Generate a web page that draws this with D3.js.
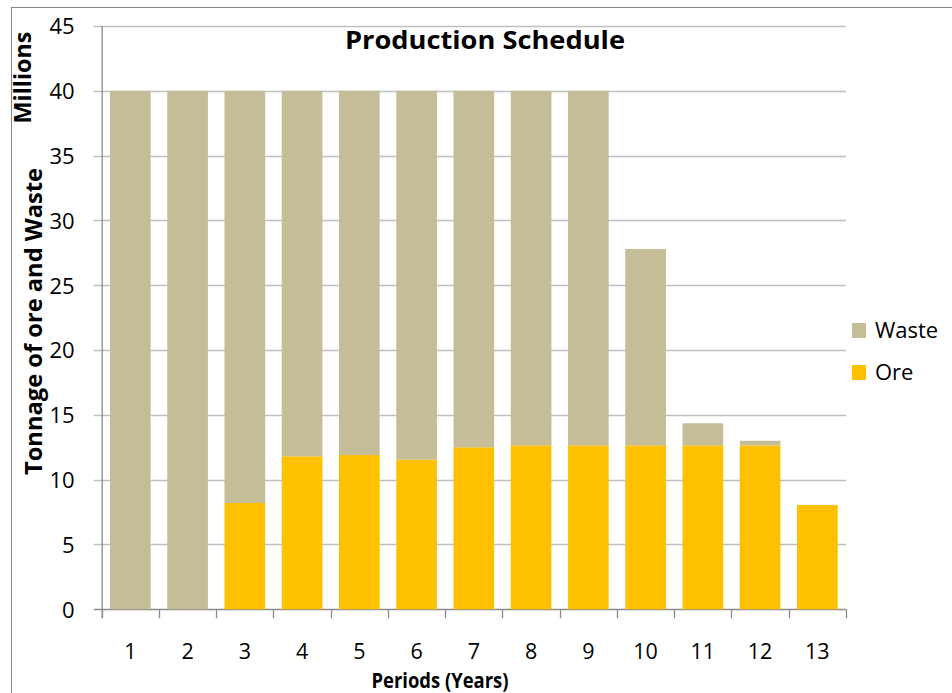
<!DOCTYPE html>
<html>
<head>
<meta charset="utf-8">
<script src="https://cdn.jsdelivr.net/npm/d3@7"></script>
<style>
  html, body { margin: 0; padding: 0; background: #fff; }
  svg { display: block; }
  text { font-family: "Open Sans", "Noto Sans", sans-serif; fill: #000; }
</style>
</head>
<body>
<svg id="chart" width="952" height="693"></svg>
<script>
// ---- data ----
const periods = ["1","2","3","4","5","6","7","8","9","10","11","12","13"];
const ore     = [0, 0, 8.2, 11.8, 11.9, 11.55, 12.5, 12.65, 12.65, 12.65, 12.65, 12.65, 8.05];
const total   = [40, 40, 40, 40, 40, 40, 40, 40, 40, 27.8, 14.35, 13.0, 8.05];
const waste   = total.map((t, i) => +(t - ore[i]).toFixed(2));
const yTicks  = [0, 5, 10, 15, 20, 25, 30, 35, 40, 45];
const seriesNames = ["Waste", "Ore"];
const colors = { Ore: "#FFC000", Waste: "#C4BD97" };

const svg = d3.select("#chart");

// outer border
svg.append("rect").attr("x", 11.5).attr("y", 7.5).attr("width", 960).attr("height", 700)
  .attr("fill", "none").attr("stroke", "#868686").attr("stroke-width", 1);

const pLeft = 101.7, pRight = 846, pTop = 26, pBottom = 609.3;

const x = d3.scaleBand().domain(periods).range([pLeft, pRight]).paddingInner(0.29).paddingOuter(0.145);
const y = d3.scaleLinear().domain([0, 45]).range([pBottom, pTop]);

// gridlines + y axis
const yAxis = d3.axisLeft(y).tickValues(yTicks).tickSize(0).tickPadding(27);
const gy = svg.append("g").attr("transform", `translate(${pLeft},0)`).call(yAxis);
gy.select(".domain").remove();
gy.selectAll("text").attr("font-size", 22).attr("fill", "#000").attr("font-family", "Open Sans").attr("dy", "0.36em");
svg.append("g").selectAll("line").data(yTicks).join("line")
  .attr("x1", pLeft - 8).attr("x2", pRight)
  .attr("y1", d => Math.round(y(d)) + 0.5).attr("y2", d => Math.round(y(d)) + 0.5)
  .attr("stroke", d => d === 0 ? "#8c8c8c" : "#bfbfbf").attr("stroke-width", 1.3);

// stacked data
const rows = periods.map((p, i) => ({ period: p, Ore: ore[i], Waste: waste[i] }));
const stack = d3.stack().keys(["Ore", "Waste"])(rows);

svg.append("g").selectAll("g").data(stack).join("g")
  .attr("fill", d => colors[d.key])
  .selectAll("rect").data(d => d).join("rect")
  .attr("x", d => x(d.data.period))
  .attr("width", x.bandwidth())
  .attr("y", d => y(d[1]))
  .attr("height", d => Math.max(0, y(d[0]) - y(d[1])));

// y axis line
svg.append("line").attr("x1", pLeft + 0.5).attr("x2", pLeft + 0.5).attr("y1", pTop).attr("y2", pBottom + 9)
  .attr("stroke", "#8c8c8c").attr("stroke-width", 1.3);

// x axis: labels + boundary ticks
const xAxis = d3.axisBottom(x).tickSize(0).tickPadding(49.7);
const gx = svg.append("g").attr("transform", `translate(0,${pBottom})`).call(xAxis);
gx.select(".domain").remove();
gx.selectAll("text").attr("font-size", 21.5).attr("fill", "#000").attr("font-family", "Open Sans").attr("dy", "0");
const bounds = d3.range(periods.length + 1).map(i => x.range()[0] + i * x.step());
svg.append("g").selectAll("line").data(bounds).join("line")
  .attr("x1", d => Math.round(d) + 0.5).attr("x2", d => Math.round(d) + 0.5)
  .attr("y1", pBottom).attr("y2", pBottom + 9)
  .attr("stroke", "#8c8c8c").attr("stroke-width", 1.3);

// title
svg.append("text").attr("x", 485).attr("y", 48.5).attr("text-anchor", "middle")
  .attr("font-size", 25).attr("font-weight", "bold")
  .attr("textLength", 280).attr("lengthAdjust", "spacingAndGlyphs")
  .text("Production Schedule");

// x title
svg.append("text").attr("x", 440).attr("y", 688).attr("text-anchor", "middle")
  .attr("font-family", "Liberation Sans").attr("font-size", 20.5).attr("font-weight", "bold")
  .attr("textLength", 137).attr("lengthAdjust", "spacingAndGlyphs")
  .text("Periods (Years)");

// y title
svg.append("text").attr("transform", "translate(42,321.5) rotate(-90)").attr("text-anchor", "middle")
  .attr("font-size", 23).attr("font-weight", "bold")
  .attr("textLength", 307).attr("lengthAdjust", "spacingAndGlyphs")
  .text("Tonnage of ore and Waste");

// units label
svg.append("text").attr("transform", "translate(31,77.5) rotate(-90)").attr("text-anchor", "middle")
  .attr("font-size", 23).attr("font-weight", "bold")
  .attr("textLength", 92).attr("lengthAdjust", "spacingAndGlyphs")
  .text("Millions");

// legend
const lg = svg.append("g").selectAll("g").data(seriesNames).join("g")
  .attr("transform", (d, i) => `translate(852,${323 + i * 42})`);
lg.append("rect").attr("width", 14).attr("height", 15).attr("fill", d => colors[d]);
lg.append("text").attr("x", 23).attr("y", 15).attr("font-size", 22).text(d => d);
</script>
</body>
</html>
